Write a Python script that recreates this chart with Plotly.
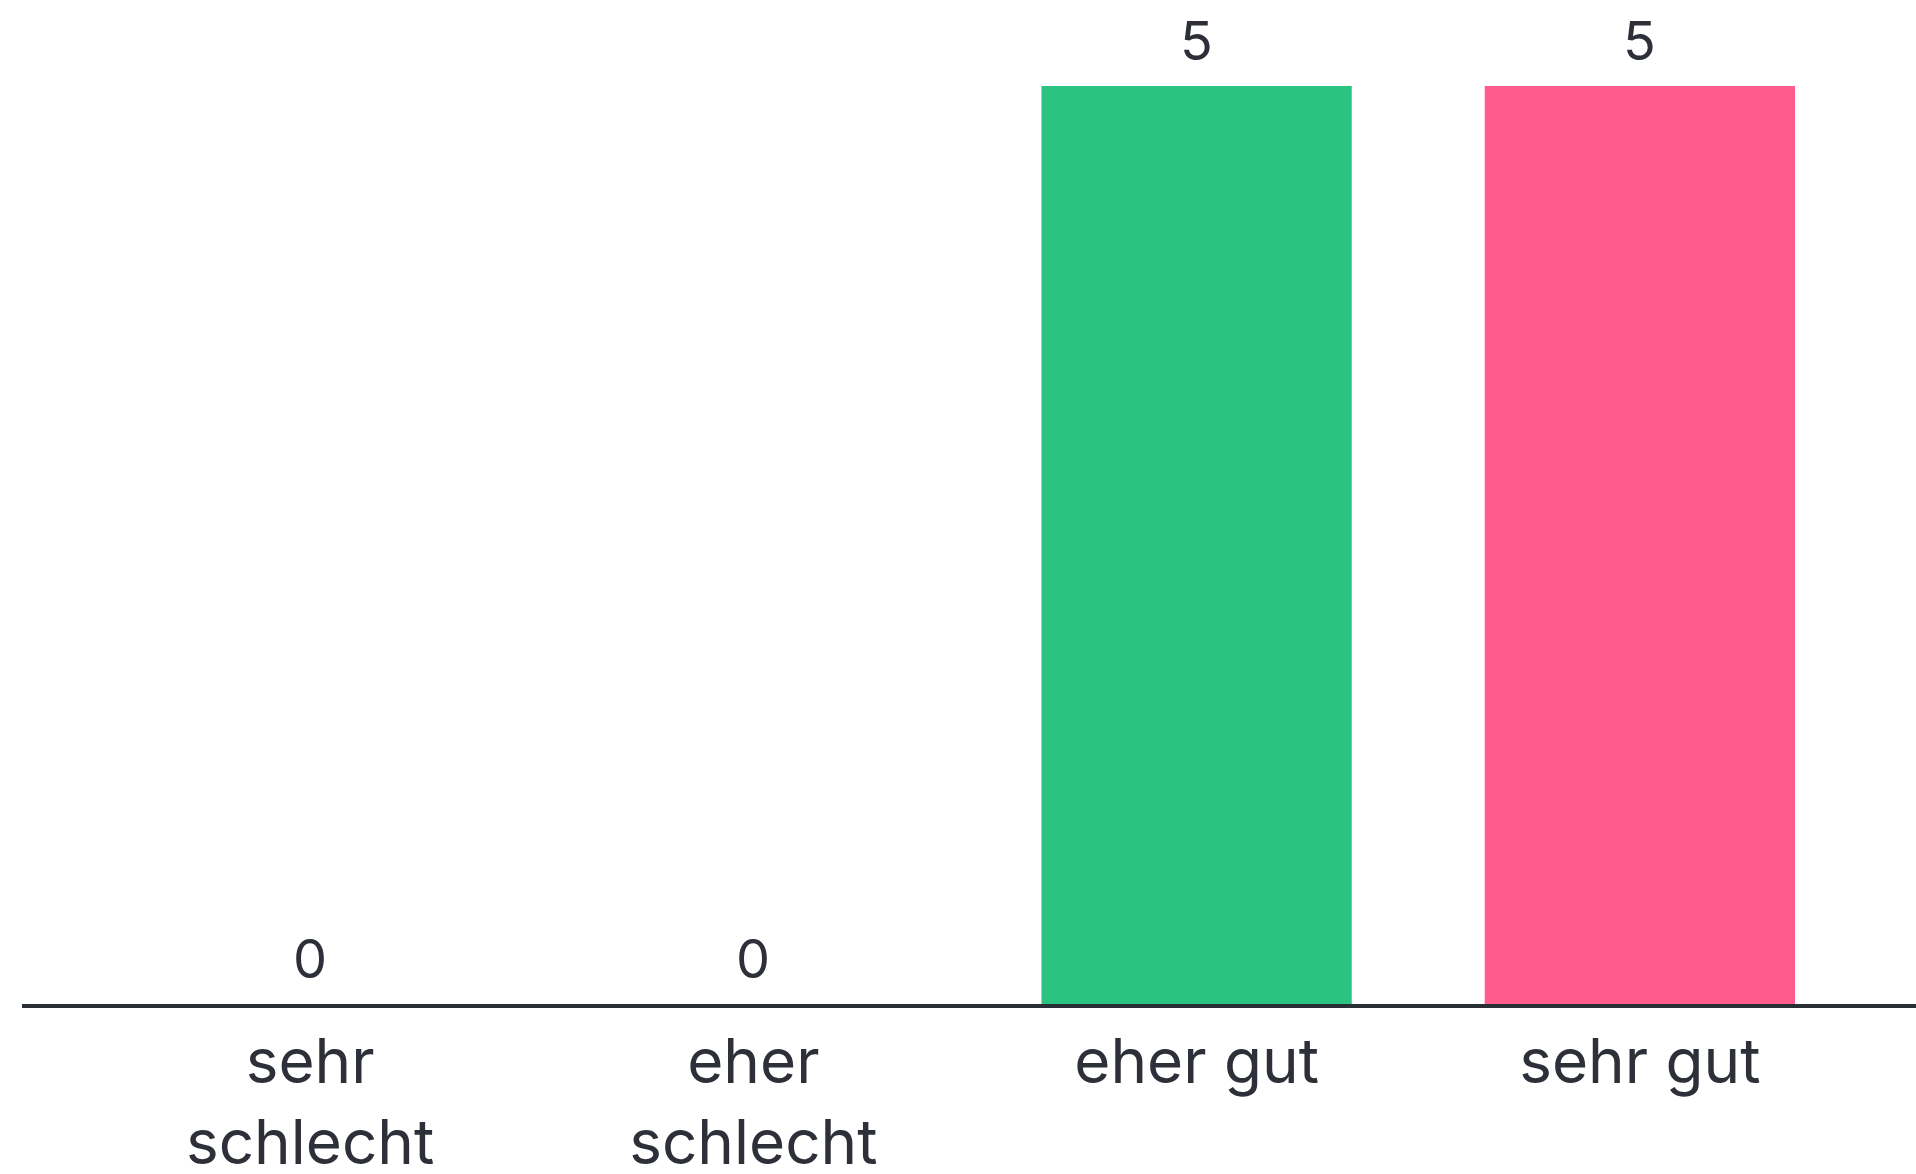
import plotly.graph_objects as go

categories = ["sehr<br>schlecht", "eher<br>schlecht", "eher gut", "sehr gut"]
values = [0, 0, 5, 5]
colors = ["#2AC37F", "#2AC37F", "#2AC37F", "#FF5C8D"]
labels = ["0", "0", "5", "5"]

FONT = "Inter, Lato, sans-serif"
TXT = "#2D3039"

fig = go.Figure()
fig.add_trace(go.Bar(
    x=list(range(len(categories))), y=values,
    marker=dict(color=colors, line=dict(width=0)),
    hoverinfo="skip",
))
for i, (v, t) in enumerate(zip(values, labels)):
    fig.add_annotation(x=i, y=v, text=t, showarrow=False, yanchor="bottom",
                       yshift=11, font=dict(family=FONT, size=54, color=TXT))

fig.update_layout(
    width=1916, height=1174,
    margin=dict(l=22, r=0, t=86, b=170, pad=0, autoexpand=False),
    paper_bgcolor="white", plot_bgcolor="white",
    bargap=0.3, showlegend=False,
    font=dict(family=FONT, size=54, color=TXT),
)
fig.update_xaxes(
    tickmode="array", tickvals=list(range(len(categories))), ticktext=categories,
    range=[-0.65, 3.623], showgrid=False, zeroline=False, automargin=False,
    showline=True, linecolor="#2A2E35", linewidth=4,
    ticks="outside", ticklen=1, tickcolor="rgba(0,0,0,0)",
    tickfont=dict(family=FONT, size=62, color=TXT),
)
fig.update_yaxes(range=[0, 5], visible=False, showgrid=False, zeroline=False,
                 automargin=False)

fig.write_html(
    "out.html",
    config={"displayModeBar": False},
    post_script="document.body.style.margin='0';document.body.style.overflow='hidden';",
)
